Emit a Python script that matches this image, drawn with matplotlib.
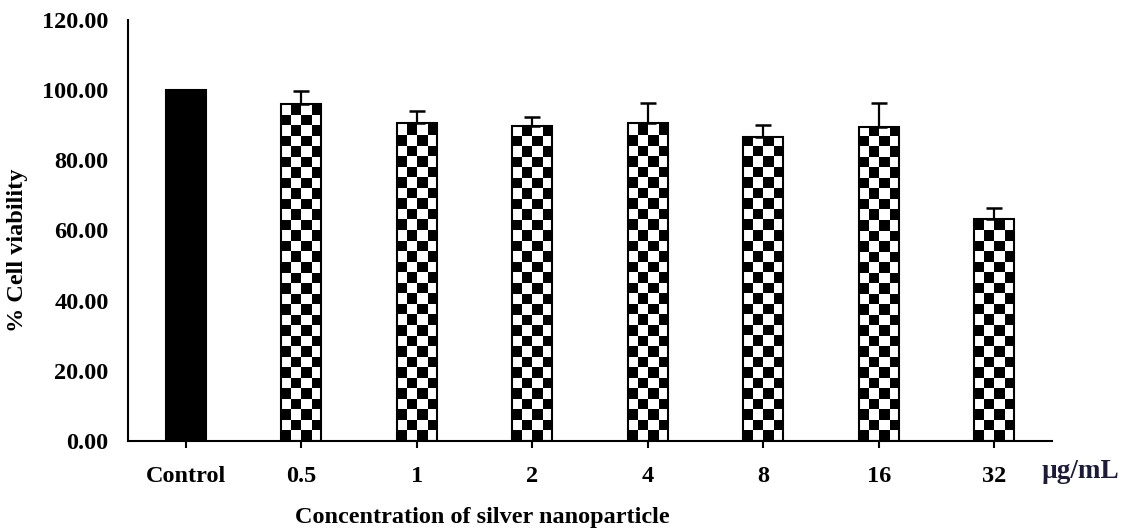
import numpy as np
import matplotlib
matplotlib.use("Agg")
from matplotlib import pyplot as plt

# data
labels = ["Control", "0.5", "1", "2", "4", "8", "16", "32"]
viability = [100.0, 96.0, 90.7, 89.7, 90.7, 86.7, 89.5, 63.4]
err = [0.0, 3.7, 3.4, 2.7, 5.7, 3.5, 6.9, 2.9]
yticks = [0, 20, 40, 60, 80, 100, 120]

plt.rcParams["font.family"] = ["Liberation Serif", "DejaVu Serif"]
plt.rcParams["font.weight"] = "bold"

fig = plt.figure(figsize=(11.36, 5.32), dpi=100)
ax = fig.add_axes([128 / 1136, 1 - 441 / 532, (1052 - 128) / 1136, (441 - 20) / 532])

x = np.arange(len(labels))
w = 0.35
bars = ax.bar(x, viability, width=w, color="white", edgecolor="black", linewidth=1.5, zorder=2)
bars[0].set_facecolor("black")

# checkerboard fill for the treated bars
sq_x = w / 4
sq_y = 3.0
for b in bars[1:]:
    x0, h = b.get_x(), b.get_height()
    ncol = 4
    nrow = int(np.ceil(h / sq_y))
    board = (np.add.outer(np.arange(nrow), np.arange(ncol)) % 2).astype(float)
    im = ax.imshow(board, cmap="gray", vmin=0, vmax=1, interpolation="nearest",
                   extent=[x0, x0 + ncol * sq_x, 0, nrow * sq_y], origin="lower",
                   aspect="auto", zorder=1)
    im.set_clip_path(b)
    b.set_facecolor("none")
    b.set_zorder(3)

ax.errorbar(x[1:], viability[1:], yerr=[np.zeros(len(err) - 1), err[1:]], fmt="none",
            ecolor="black", elinewidth=1.6, capsize=5.5, capthick=1.8, zorder=4)

ax.set_xlim(-0.5, len(labels) - 0.5)
ax.set_ylim(0, 120)
ax.set_yticks(yticks)
ax.set_yticklabels([f"{v:.2f}" for v in yticks], fontsize=17.5, fontweight="bold")
ax.set_xticks(x)
ax.set_xticklabels(labels, fontsize=17.5, fontweight="bold")
ax.tick_params(axis="y", length=0, pad=14)
ax.tick_params(axis="x", length=5, width=1.5, direction="out", pad=13)
ax.spines["top"].set_visible(False)
ax.spines["right"].set_visible(False)
ax.spines["left"].set_linewidth(1.5)
ax.spines["bottom"].set_linewidth(1.5)

fig.text(18 / 1136, 1 - 250 / 532, "% Cell viability", rotation=90, fontsize=17.5,
         fontweight="bold", ha="center", va="center")
fig.text(482 / 1136, 1 - 518 / 532, "Concentration of silver nanoparticle", fontsize=17.5,
         fontweight="bold", ha="center", va="center")
fig.text(1080 / 1136, 1 - 472 / 532, "\u00b5g/mL", fontsize=19.5, fontweight="bold",
         ha="center", va="center", color="#1c1c3a")

fig.savefig("out.png", dpi=100)
